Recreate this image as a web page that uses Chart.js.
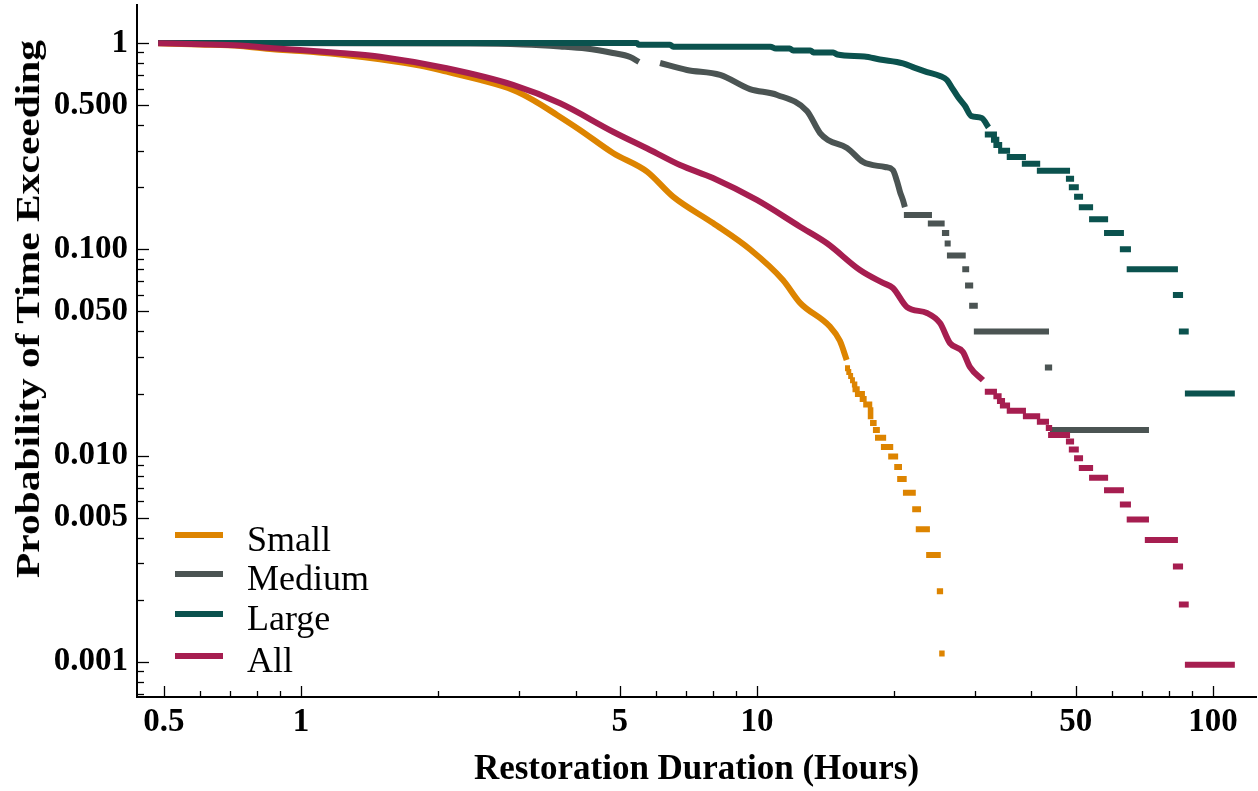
<!DOCTYPE html>
<html lang="en">
<head>
    <meta charset="UTF-8">
    <title>Restoration Duration Exceedance</title>
    <script src="https://cdn.jsdelivr.net/npm/chart.js"></script>
    <style>
        body {
            margin: 0;
            background: #fff;
        }

        .wrap {
            position: relative;
            width: 1258px;
            height: 791px;
        }

        /* rotated y title, stretched like the original */
        .y-title {
            position: absolute;
            left: 28px;
            top: 309px;
            font: bold 34px "Liberation Serif", "Times New Roman", serif;
            white-space: nowrap;
            color: #000;
            transform: translate(-50%, -50%) rotate(-90deg) scaleX(1.22);
        }

        .legend-row {
            position: absolute;
            left: 175px;
            height: 40px;
            display: flex;
            align-items: center;
            font: 36px "Liberation Serif", "Times New Roman", serif;
            color: #000;
        }

        .legend-row span.swatch {
            display: inline-block;
            width: 48px;
            height: 6px;
            margin-right: 24px;
        }
    </style>
</head>
<body>
<div class="wrap">
    <canvas id="chart" width="1258" height="791"></canvas>
    <div class="y-title">Probability of Time Exceeding</div>
    <div id="legend"></div>
</div>

<script>
    // ---- data (hours, probability of exceeding) ----
    const seriesNames = ['Small', 'Medium', 'Large', 'All'];

    // dense part of each survival curve, drawn joined
    const smallCurveX = [0.486, 0.60, 0.735, 0.868, 0.995, 1.218, 1.49, 1.823, 2.087, 2.47, 2.917, 3.23, 3.642, 4.09, 4.833, 5.739, 6.545, 8.008, 9.65, 11.4, 12.43, 14.45, 15.2, 15.73];
    const smallCurveY = [0.997, 0.983, 0.967, 0.932, 0.915, 0.88, 0.834, 0.778, 0.726, 0.662, 0.592, 0.529, 0.448, 0.379, 0.293, 0.238, 0.180, 0.134, 0.100, 0.071, 0.055, 0.0422, 0.036, 0.0291];

    const mediumCurveX = [0.486, 2.35, 3.07, 3.70, 4.22, 4.83, 5.27, 5.51, 5.8, 6.13, 7.02, 8.30, 9.65, 11.07, 12.87, 13.75, 14.31, 15.76, 17.08, 19.09, 19.87, 20.28, 20.59, 20.90, 21.11];
    const mediumCurveY = [1.0, 0.994, 0.983, 0.962, 0.940, 0.894, 0.855, 0.809, null, 0.80, 0.740, 0.70, 0.598, 0.56, 0.468, 0.366, 0.339, 0.31, 0.265, 0.2505, 0.242, 0.214, 0.19, 0.173, 0.160];

    const largeCurveX = [0.486, 5.45, 5.5, 6.45, 6.55, 10.7, 11.0, 11.8, 12.0, 13.1, 13.3, 14.7, 15.0, 17.2, 18.6, 20.9, 22.2, 23.6, 25.2, 26.1, 26.8, 27.6, 28.6, 29.5, 31.1, 32.2];
    const largeCurveY = [1.0, 1.0, 0.98, 0.98, 0.96, 0.96, 0.94, 0.94, 0.92, 0.92, 0.90, 0.90, 0.88, 0.86, 0.832, 0.797, 0.757, 0.723, 0.692, 0.662, 0.605, 0.547, 0.495, 0.443, 0.433, 0.39];

    const allCurveX = [0.486, 0.60, 0.735, 0.868, 0.995, 1.218, 1.49, 2.087, 2.917, 3.70, 4.833, 5.83, 6.78, 8.008, 9.99, 12.43, 14.24, 16.82, 18.9, 19.87, 21.33, 23.6, 25.2, 26.5, 28.3, 29.3, 31.3];
    const allCurveY = [0.997, 0.986, 0.972, 0.943, 0.925, 0.894, 0.858, 0.754, 0.626, 0.510, 0.3715, 0.303, 0.256, 0.2216, 0.1734, 0.1287, 0.107, 0.0794, 0.0687, 0.0649, 0.0525, 0.0491, 0.0439, 0.0351, 0.0318, 0.0269, 0.0232];

    // sparse tails: [from hours, to hours, probability] level runs
    const smallSteps = [
        [15.6, 16.0, 0.0265], [15.7, 16.1, 0.0254], [15.85, 16.25, 0.0243], [16.0, 16.4, 0.0232],
        [16.15, 16.6, 0.0221], [16.2, 16.8, 0.0210], [16.4, 17.25, 0.0199], [16.8, 17.4, 0.0188],
        [17.1, 17.9, 0.0177], [17.5, 18.0, 0.0166], [17.5, 18.0, 0.0155], [17.7, 18.3, 0.0144],
        [17.96, 18.6, 0.0133], [18.15, 19.2, 0.0122], [18.7, 19.9, 0.0110], [19.4, 20.4, 0.0099],
        [20.0, 20.8, 0.0088], [20.3, 21.3, 0.0077], [20.9, 22.3, 0.0066], [21.9, 22.9, 0.0055],
        [22.3, 23.95, 0.0044], [23.5, 25.3, 0.0033], [24.8, 25.6, 0.0022], [25.1, 25.8, 0.0011]
    ];
    const mediumSteps = [
        [21.0, 24.2, 0.1467], [23.7, 25.8, 0.1333], [25.45, 26.4, 0.12], [25.8, 26.6, 0.1067],
        [26.1, 28.7, 0.0933], [28.2, 29.2, 0.08], [28.6, 29.8, 0.0667], [29.2, 30.5, 0.0533],
        [29.9, 43.7, 0.04], [42.8, 44.4, 0.0267], [43.9, 72.4, 0.0133]
    ];
    const largeSteps = [
        [31.6, 33.6, 0.36], [32.6, 34.0, 0.34], [33.0, 34.5, 0.32], [33.8, 35.9, 0.30],
        [35.3, 38.9, 0.28], [38.1, 41.8, 0.26], [41.1, 48.6, 0.24], [47.6, 49.6, 0.22],
        [48.3, 50.8, 0.20], [49.6, 51.9, 0.18], [50.8, 54.6, 0.16], [53.5, 58.9, 0.14],
        [57.7, 63.8, 0.12], [62.5, 66.1, 0.10], [64.7, 83.8, 0.08], [81.7, 86.0, 0.06],
        [84.2, 88.5, 0.04], [86.8, 111.7, 0.02]
    ];
    const allSteps = [
        [31.6, 33.6, 0.0204], [33.0, 34.4, 0.0194], [33.6, 35.0, 0.0184], [34.1, 35.9, 0.0175],
        [35.3, 38.9, 0.0165], [38.3, 41.8, 0.0155], [41.1, 43.7, 0.0146], [43.0, 44.4, 0.0136],
        [43.5, 48.6, 0.0126], [47.6, 49.6, 0.0117], [48.3, 50.8, 0.0107], [49.6, 51.9, 0.0097],
        [50.8, 54.6, 0.0087], [53.5, 58.9, 0.0078], [57.7, 63.8, 0.0068], [62.5, 66.1, 0.0058],
        [64.7, 72.4, 0.0049], [70.9, 83.8, 0.0039], [81.7, 86.0, 0.0029], [84.2, 88.5, 0.0019],
        [86.8, 111.7, 0.00097]
    ];

    // axes
    const xMajorTicks = [0.5, 1, 5, 10, 50, 100];
    const xTickLabels = ['0.5', '1', '5', '10', '50', '100'];
    const xMinorTicks = [0.6, 0.7, 0.8, 0.9, 2, 3, 4, 6, 7, 8, 9, 20, 30, 40, 60, 70, 80, 90];
    const yMajorTicks = [1, 0.5, 0.1, 0.05, 0.01, 0.005, 0.001];
    const yTickLabels = ['1', '0.500', '0.100', '0.050', '0.010', '0.005', '0.001'];
    const yMinorTicks = [0.9, 0.8, 0.7, 0.6, 0.4, 0.3, 0.2, 0.09, 0.08, 0.07, 0.06, 0.04, 0.03, 0.02,
        0.009, 0.008, 0.007, 0.006, 0.004, 0.003, 0.002, 0.0009, 0.0008, 0.0007];

    const colors = ['#DD8400', '#4B5453', '#0B524E', '#A61E50'];

    // curve points, then each tail level as its own short horizontal run
    function buildPoints(cx, cy, steps) {
        const pts = cx.map((x, i) => ({ x: x, y: cy[i] }));
        steps.forEach(([x0, x1, p]) => {
            pts.push({ x: x0, y: null });
            pts.push({ x: x0, y: p }, { x: x1, y: p });
        });
        return pts;
    }

    const seriesPoints = [
        buildPoints(smallCurveX, smallCurveY, smallSteps),
        buildPoints(mediumCurveX, mediumCurveY, mediumSteps),
        buildPoints(largeCurveX, largeCurveY, largeSteps),
        buildPoints(allCurveX, allCurveY, allSteps)
    ];

    const serif = '"Liberation Serif", "Times New Roman", serif';
    Chart.defaults.font.family = serif;
    Chart.defaults.color = '#000';

    // tick marks drawn inward, like the original frame
    const innerTicks = {
        id: 'innerTicks',
        afterDraw(chart) {
            const ctx = chart.ctx;
            const xs = chart.scales.x, ys = chart.scales.y;
            ctx.save();
            ctx.strokeStyle = '#000';
            ctx.lineWidth = 1.3;
            xs.ticks.forEach(t => {
                const px = Math.round(xs.getPixelForValue(t.value)) + 0.5;
                const len = xMajorTicks.includes(t.value) ? 11 : 6;
                ctx.beginPath();
                ctx.moveTo(px, xs.top);
                ctx.lineTo(px, xs.top - len);
                ctx.stroke();
            });
            ys.ticks.forEach(t => {
                const py = Math.round(ys.getPixelForValue(t.value)) + 0.5;
                const len = yMajorTicks.includes(t.value) ? 12 : 7;
                ctx.beginPath();
                ctx.moveTo(ys.right, py);
                ctx.lineTo(ys.right + len, py);
                ctx.stroke();
            });
            ctx.restore();
        }
    };

    new Chart(document.getElementById('chart'), {
        type: 'line',
        data: {
            datasets: seriesNames.map((name, i) => ({
                label: name,
                data: seriesPoints[i],
                borderColor: colors[i],
                backgroundColor: colors[i],
                borderWidth: 6,
                borderCapStyle: 'butt',
                borderJoinStyle: 'round',
                cubicInterpolationMode: 'monotone',
                pointRadius: 0,
                spanGaps: false,
                order: 3 - i
            }))
        },
        options: {
            responsive: false,
            animation: false,
            layout: { padding: { top: 5, right: 2, left: 0, bottom: 0 } },
            plugins: {
                legend: { display: false },
                tooltip: { enabled: false }
            },
            scales: {
                x: {
                    type: 'logarithmic',
                    min: 0.4368,
                    max: 124.3,
                    grid: { display: false, drawTicks: false },
                    border: { display: true, color: '#000', width: 2 },
                    afterBuildTicks: s => {
                        s.ticks = xMajorTicks.concat(xMinorTicks).sort((a, b) => a - b).map(v => ({ value: v }));
                    },
                    afterFit: s => {
                        s.height = 94;
                        s.paddingLeft = 0;
                        s.paddingRight = 0;
                    },
                    ticks: {
                        autoSkip: false,
                        maxRotation: 0,
                        padding: 6,
                        font: { size: 33, weight: 'bold' },
                        callback: v => {
                            const k = xMajorTicks.indexOf(v);
                            return k >= 0 ? xTickLabels[k] : '';
                        }
                    },
                    title: {
                        display: true,
                        text: 'Restoration Duration (Hours)',
                        font: { size: 35, weight: 'bold' },
                        padding: { top: 0, bottom: 0 }
                    }
                },
                y: {
                    type: 'logarithmic',
                    min: 0.000676,
                    max: 1.528,
                    grid: { display: false, drawTicks: false },
                    border: { display: true, color: '#000', width: 2 },
                    afterBuildTicks: s => {
                        s.ticks = yMajorTicks.concat(yMinorTicks).sort((a, b) => a - b).map(v => ({ value: v }));
                    },
                    afterFit: s => {
                        s.width = 137;
                        s.paddingTop = 0;
                        s.paddingBottom = 0;
                    },
                    ticks: {
                        autoSkip: false,
                        padding: 9,
                        font: { size: 33, weight: 'bold' },
                        callback: v => {
                            const k = yMajorTicks.indexOf(v);
                            return k >= 0 ? yTickLabels[k] : '';
                        }
                    }
                }
            }
        },
        plugins: [innerTicks]
    });

    // legend in the lower-left corner of the plot
    const legendRowCenters = [535, 574, 614, 656];
    const legend = document.getElementById('legend');
    seriesNames.forEach((name, i) => {
        const row = document.createElement('div');
        row.className = 'legend-row';
        row.style.top = (legendRowCenters[i] - 20) + 'px';
        row.innerHTML = `<span class="swatch" style="background:${colors[i]}"></span><span style="position:relative;top:4px">${name}</span>`;
        legend.appendChild(row);
    });
</script>
</body>
</html>
